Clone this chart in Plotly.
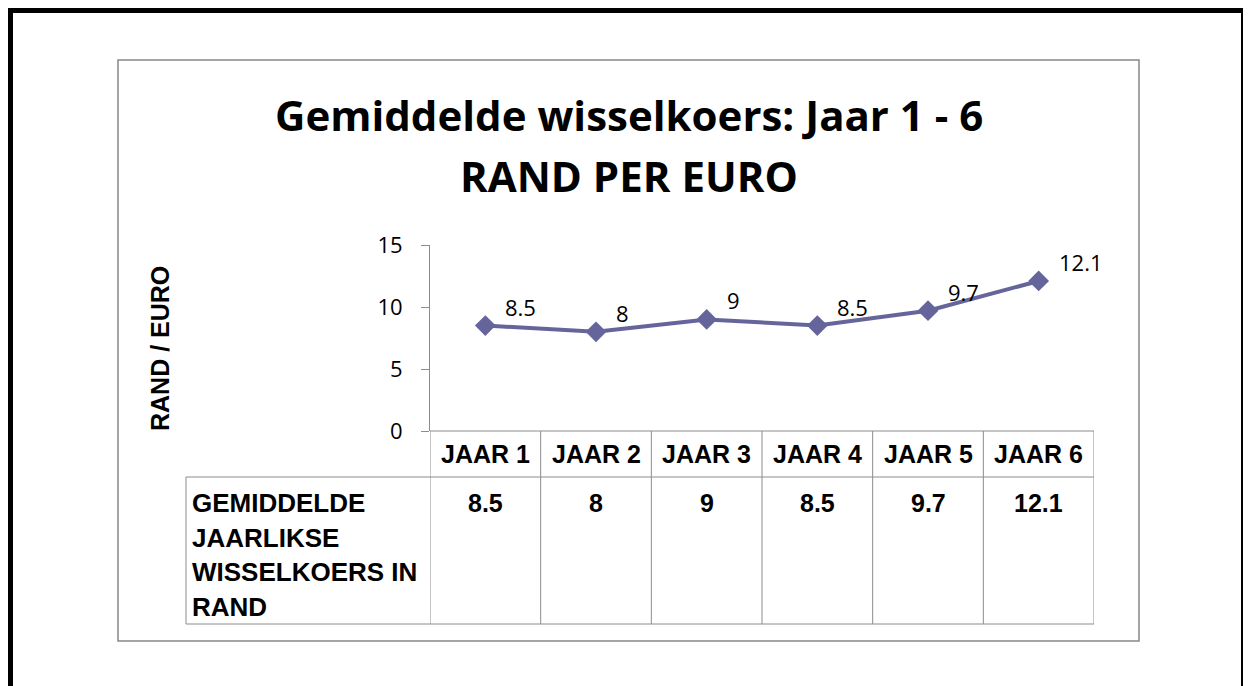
import plotly.graph_objects as go

# ---- data ----
categories = ["JAAR 1", "JAAR 2", "JAAR 3", "JAAR 4", "JAAR 5", "JAAR 6"]
values = [8.5, 8, 9, 8.5, 9.7, 12.1]
value_labels = ["8.5", "8", "9", "8.5", "9.7", "12.1"]
y_ticks = [0, 5, 10, 15]
title_lines = ["Gemiddelde wisselkoers: Jaar 1 - 6", "RAND PER EURO"]
y_title = "RAND / EURO"
row_label_lines = ["GEMIDDELDE", "JAARLIKSE", "WISSELKOERS IN", "RAND"]

# ---- layout geometry (page pixels; page body has an 8px margin) ----
OFF = 8
W, H = 1251 - OFF, 686 - OFF
PL, PR, PT, PB = 430, 1094, 245, 431  # plot area in page coords


def px(x):
    return (x - PL) / (PR - PL)


def py(y):
    return (PB - y) / (PB - PT)


LINE_COLOR = "#65659C"
GRID = "#8c8c8c"
TXT_FONT = "Liberation Sans, Arial, sans-serif"
NUM_FONT = "Open Sans, sans-serif"

fig = go.Figure()
fig.add_trace(go.Scatter(
    x=categories, y=values, mode="lines+markers",
    line=dict(color=LINE_COLOR, width=4),
    marker=dict(symbol="diamond", size=16, color=LINE_COLOR),
    cliponaxis=False, hoverinfo="x+y", showlegend=False,
))

shapes = []
# outer thick black frame
shapes.append(dict(type="rect", xref="paper", yref="paper",
                   x0=px(10.5), x1=px(1243.5), y0=py(720), y1=py(10.5),
                   line=dict(color="black", width=5), layer="below"))
# chart area border
shapes.append(dict(type="rect", xref="paper", yref="paper",
                   x0=px(118), x1=px(1139), y0=py(641), y1=py(60),
                   line=dict(color="#888888", width=1.5), layer="below"))
# table: horizontal lines
for (xa, xb, yy) in [(PL, PR, PB), (186, PR, 477), (186, PR, 624)]:
    shapes.append(dict(type="line", xref="paper", yref="paper",
                       x0=px(xa), x1=px(xb), y0=py(yy), y1=py(yy),
                       line=dict(color=GRID, width=1)))
# table: vertical lines at category boundaries
for i in range(len(categories) + 1):
    shapes.append(dict(type="line", xref="x", yref="paper",
                       x0=i - 0.5, x1=i - 0.5, y0=py(PB), y1=py(624),
                       line=dict(color=GRID, width=1)))
shapes.append(dict(type="line", xref="paper", yref="paper",
                   x0=px(186), x1=px(186), y0=py(477), y1=py(624),
                   line=dict(color=GRID, width=1)))

annotations = []
# titles
annotations.append(dict(text="<b>%s</b>" % title_lines[0], xref="paper", yref="paper",
                        x=px(628.5), y=py(114), xanchor="center", yanchor="middle",
                        showarrow=False, font=dict(family=NUM_FONT, size=42, color="black")))
annotations.append(dict(text="<b>%s</b>" % title_lines[1], xref="paper", yref="paper",
                        x=px(628.5), y=py(175), xanchor="center", yanchor="middle",
                        showarrow=False, font=dict(family=NUM_FONT, size=42, color="black")))
# y title
annotations.append(dict(text="<b>%s</b>" % y_title, xref="paper", yref="paper",
                        x=px(160), y=py(349), textangle=-90, xanchor="center", yanchor="middle",
                        showarrow=False, font=dict(family=TXT_FONT, size=25, color="black")))
# data labels
for c, v, t in zip(categories, values, value_labels):
    annotations.append(dict(text=t, x=c, y=v, xref="x", yref="y",
                            xanchor="left", yanchor="middle", xshift=18, yshift=19,
                            showarrow=False, font=dict(family=NUM_FONT, size=22, color="black")))
# table header and values
for c, t in zip(categories, value_labels):
    annotations.append(dict(text="<b>%s</b>" % c, x=c, y=py(454), xref="x", yref="paper",
                            xanchor="center", yanchor="middle", showarrow=False,
                            font=dict(family=TXT_FONT, size=25, color="black")))
    annotations.append(dict(text="<b>%s</b>" % t, x=c, y=py(503), xref="x", yref="paper",
                            xanchor="center", yanchor="middle", showarrow=False,
                            font=dict(family=TXT_FONT, size=25, color="black")))
# row label
for k, line in enumerate(row_label_lines):
    annotations.append(dict(text="<b>%s</b>" % line, xref="paper", yref="paper",
                            x=px(190), y=py(503 + 34.5 * k), xanchor="left", yanchor="middle",
                            showarrow=False, font=dict(family=TXT_FONT, size=26, color="black")))

fig.update_layout(
    width=W, height=H,
    margin=dict(l=PL - OFF, r=W - (PR - OFF), t=PT - OFF, b=H - (PB - OFF), pad=0),
    paper_bgcolor="white", plot_bgcolor="white",
    showlegend=False,
    shapes=shapes, annotations=annotations,
    xaxis=dict(type="category", range=[-0.5, len(categories) - 0.5],
               showticklabels=False, showgrid=False, zeroline=False,
               showline=False, ticks="", fixedrange=True),
    yaxis=dict(range=[0, 15], tickvals=y_ticks, ticks="outside", ticklen=8,
               tickcolor=GRID, showline=True, linecolor=GRID, linewidth=1,
               showgrid=False, zeroline=False, ticklabelstandoff=14,
               tickfont=dict(family=NUM_FONT, size=22, color="black"), fixedrange=True),
)

fig.write_html("out.html")
